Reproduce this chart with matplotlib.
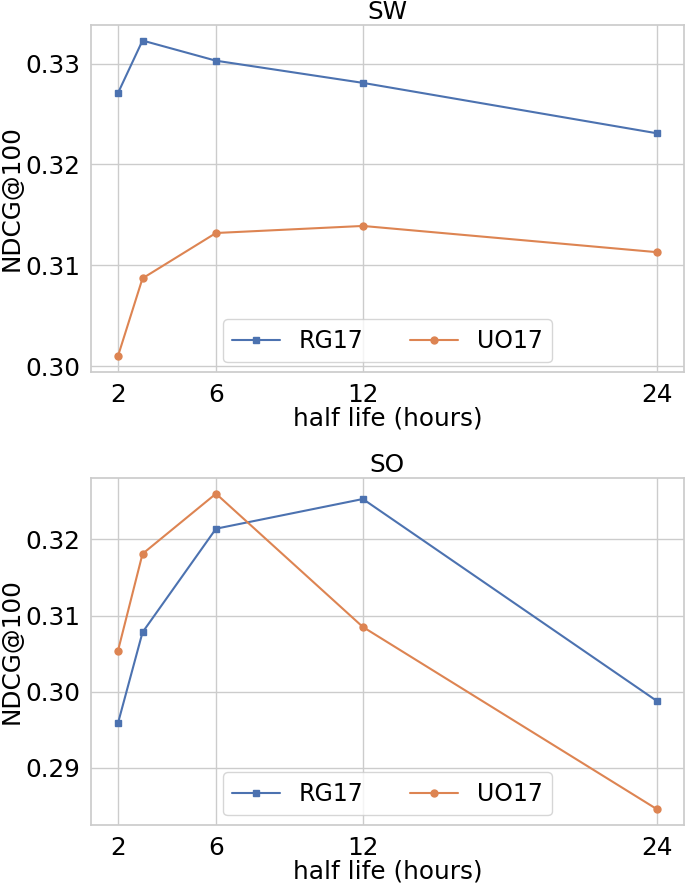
import matplotlib
matplotlib.use("Agg")
import matplotlib.pyplot as plt
from matplotlib.ticker import MultipleLocator, FormatStrFormatter
import seaborn as sns

sns.set_theme(style="whitegrid")
plt.rcParams['font.family'] = ['DejaVu Sans']
plt.rcParams['text.color'] = 'black'
plt.rcParams['axes.labelcolor'] = 'black'
plt.rcParams['xtick.color'] = 'black'
plt.rcParams['ytick.color'] = 'black'

# half life values (hours)
half_life = [2, 3, 6, 12, 24]
xticks = [2, 6, 12, 24]

# SW panel
sw_rg17 = [0.3271, 0.3323, 0.3303, 0.3281, 0.3231]
sw_uo17 = [0.3010, 0.3087, 0.3132, 0.3139, 0.3113]

# SO panel
so_rg17 = [0.2959, 0.3078, 0.3214, 0.3253, 0.2988]
so_uo17 = [0.3054, 0.3181, 0.3260, 0.3085, 0.2846]

panels = [("SW", sw_rg17, sw_uo17), ("SO", so_rg17, so_uo17)]

fs = 17.8
fig = plt.figure(figsize=(6.85, 8.85), dpi=100)
positions = [[0.133, 0.580, 0.865, 0.392], [0.133, 0.068, 0.865, 0.392]]

for pos, (title, rg, uo) in zip(positions, panels):
    ax = fig.add_axes(pos)
    ax.plot(half_life, rg, marker="s", markersize=5, linewidth=1.5,
            color="#4C72B0", label="RG17")
    ax.plot(half_life, uo, marker="o", markersize=5, linewidth=1.5,
            color="#DD8452", label="UO17")
    ax.set_xticks(xticks)
    ax.yaxis.set_major_locator(MultipleLocator(0.01))
    ax.yaxis.set_major_formatter(FormatStrFormatter("%.2f"))
    ax.set_title(title, fontsize=fs, pad=4)
    ax.set_xlabel("half life (hours)", fontsize=fs, labelpad=0)
    ax.set_ylabel("NDCG@100", fontsize=fs, labelpad=1)
    ax.tick_params(labelsize=fs, pad=2)
    ax.legend(loc="lower center", ncol=2, fontsize=17, borderaxespad=0.4)

fig.savefig("out.png", dpi=100)
